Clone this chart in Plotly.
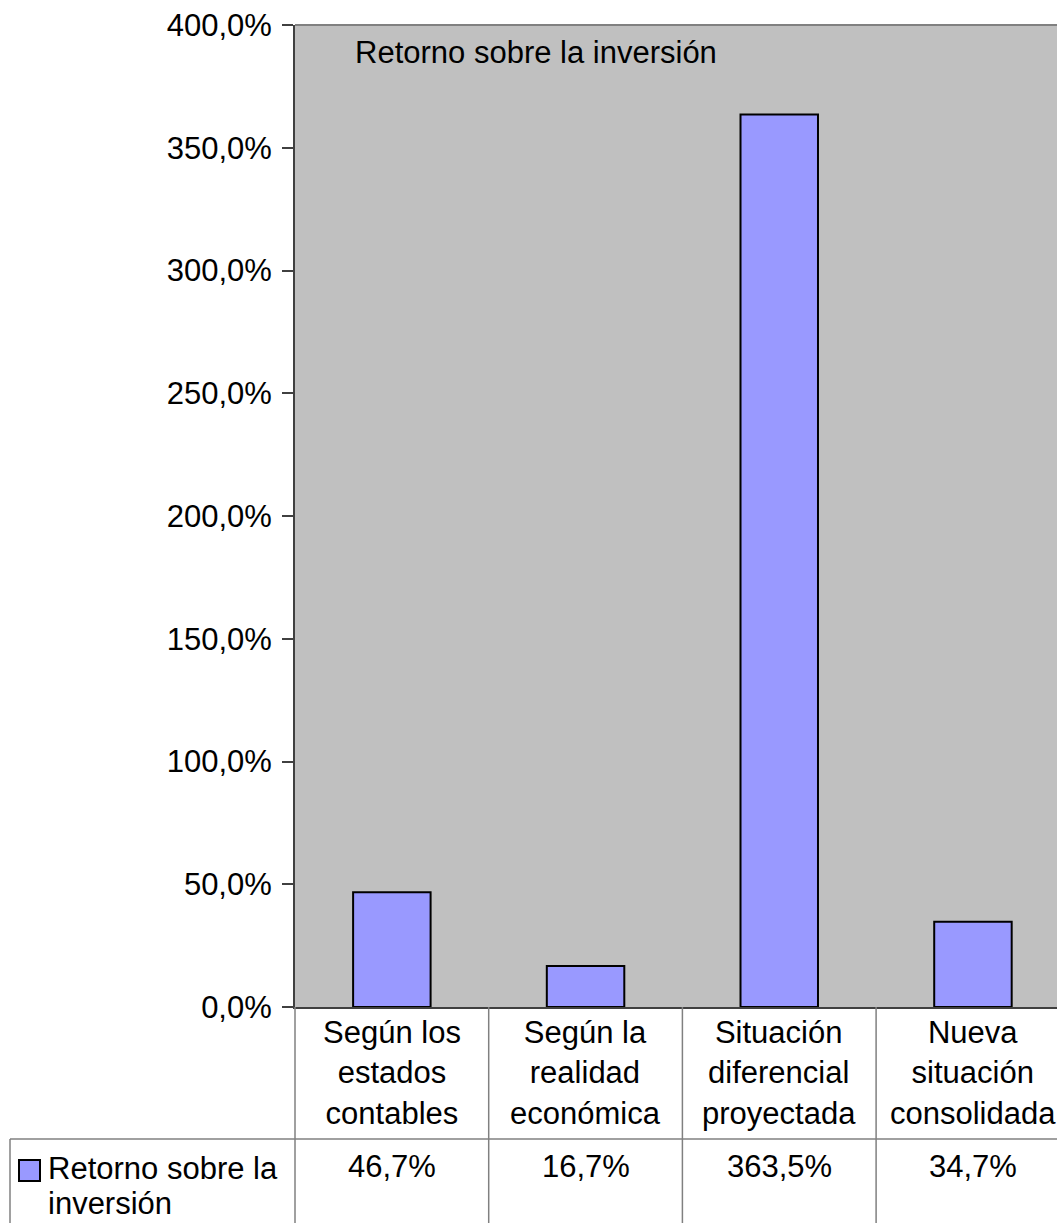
import plotly.graph_objects as go

# ---- data ----
category_lines = [
    ["Según los", "estados", "contables"],
    ["Según la", "realidad", "económica"],
    ["Situación", "diferencial", "proyectada"],
    ["Nueva", "situación", "consolidada"],
]
categories = [" ".join(l) for l in category_lines]
values = [46.7, 16.7, 363.5, 34.7]
value_labels = ["46,7%", "16,7%", "363,5%", "34,7%"]
tick_vals = [0, 50, 100, 150, 200, 250, 300, 350, 400]
tick_text = ["0,0%", "50,0%", "100,0%", "150,0%", "200,0%", "250,0%", "300,0%", "350,0%", "400,0%"]
series_name = "Retorno sobre la inversión"
legend_label_lines = ["Retorno sobre la", "inversión"]

# ---- layout constants (pixels) ----
W, H = 1057, 1223
L, T, B = 295, 25, 216
PLOT_W = W - L
PLOT_H = H - T - B
CAT_W = 193.7
FONT = "Liberation Sans, Arial, sans-serif"
FS = 31
BAR_COLOR = "#9999FF"
GRID = "#808080"
AXIS = "#404040"


def px_x(X):
    return (X - L) / PLOT_W


def px_y(Y):
    return (T + PLOT_H - Y) / PLOT_H


fig = go.Figure()
fig.add_trace(go.Bar(
    x=categories, y=values, name=series_name, width=0.4,
    marker=dict(color=BAR_COLOR, line=dict(color="black", width=2)),
    showlegend=False, hoverinfo="skip",
))

shapes = []
annotations = []

# top border of plot area
shapes.append(dict(type="line", xref="paper", yref="paper", x0=0, x1=1.05, y0=1, y1=1,
                   line=dict(color=GRID, width=2)))

# data table lines
y_row = px_y(1139)
y_bot = px_y(1240)
shapes.append(dict(type="line", xref="paper", yref="paper", x0=px_x(10), x1=1.1, y0=y_row, y1=y_row,
                   line=dict(color=GRID, width=1.5)))
shapes.append(dict(type="line", xref="paper", yref="paper", x0=px_x(10), x1=px_x(10), y0=y_row, y1=y_bot,
                   line=dict(color=GRID, width=1.5)))
shapes.append(dict(type="line", xref="paper", yref="paper", x0=0, x1=0, y0=0, y1=y_bot,
                   line=dict(color=GRID, width=1.5)))
for i in range(len(categories) - 1):
    shapes.append(dict(type="line", xref="x", yref="paper", x0=i + 0.5, x1=i + 0.5, y0=0, y1=y_bot,
                       line=dict(color=GRID, width=1.5)))

# legend marker in the table
shapes.append(dict(type="rect", xref="paper", yref="paper",
                   x0=px_x(19), x1=px_x(40), y0=px_y(1181), y1=px_y(1160),
                   fillcolor=BAR_COLOR, line=dict(color="black", width=2)))

# category labels
for cat, lines in zip(categories, category_lines):
    annotations.append(dict(x=cat, xref="x", y=px_y(1073), yref="paper", yanchor="middle",
                            text="<br>".join(lines), showarrow=False, align="center",
                            font=dict(family=FONT, size=FS, color="black")))
# value labels
for cat, lab in zip(categories, value_labels):
    annotations.append(dict(x=cat, xref="x", y=px_y(1166), yref="paper", yanchor="middle",
                            text=lab, showarrow=False, align="center",
                            font=dict(family=FONT, size=FS, color="black")))
# legend label (two lines, tighter spacing as in the reference)
for k, line in enumerate(legend_label_lines):
    annotations.append(dict(x=px_x(46), xref="paper", xanchor="left", y=px_y(1168 + 35 * k),
                            yref="paper", yanchor="middle", text=line, showarrow=False,
                            align="left", font=dict(family=FONT, size=FS, color="black")))
# title inside plot
annotations.append(dict(x=px_x(353), xref="paper", xanchor="left", y=px_y(52), yref="paper",
                        yanchor="middle", text=series_name, showarrow=False,
                        font=dict(family=FONT, size=FS, color="black")))

fig.update_layout(
    width=W, height=H,
    margin=dict(l=L, r=0, t=T, b=B, pad=0),
    paper_bgcolor="white", plot_bgcolor="#C0C0C0",
    font=dict(family=FONT, size=FS, color="black"),
    bargap=0.6,
    shapes=shapes, annotations=annotations,
    xaxis=dict(range=[-0.5, -0.5 + PLOT_W / CAT_W], showticklabels=False, ticks="",
               showgrid=False, zeroline=False, showline=True, linecolor=AXIS, linewidth=2,
               fixedrange=True),
    yaxis=dict(range=[0, 400], tickvals=tick_vals, ticktext=tick_text, ticks="outside",
               ticklen=11, tickwidth=1.5, tickcolor=AXIS, showline=True, linecolor=AXIS,
               linewidth=2, showgrid=False, zeroline=False, ticklabelstandoff=4,
               tickfont=dict(family=FONT, size=FS, color="black"), fixedrange=True),
)

fig.write_html("out.html", config={"displayModeBar": False})
